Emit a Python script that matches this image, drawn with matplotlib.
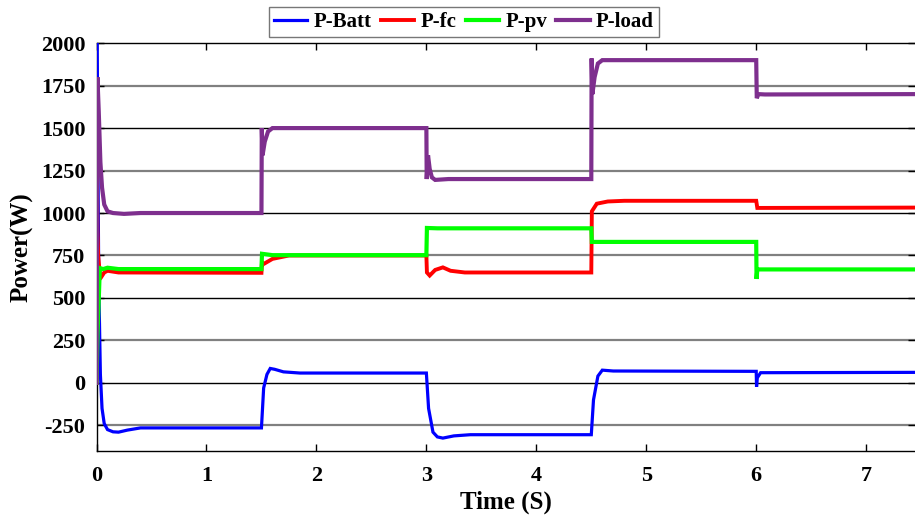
import matplotlib
matplotlib.use("Agg")
import matplotlib.pyplot as plt

# ---- data ----
t_batt = [0, 0.005, 0.02, 0.035, 0.05, 0.07, 0.1, 0.15, 0.2, 0.28, 0.4,
          1.5, 1.52, 1.55, 1.58, 1.62, 1.7, 1.85,
          3.0, 3.02, 3.06, 3.1, 3.15, 3.25, 3.4,
          4.5, 4.52, 4.56, 4.6, 4.7,
          6.0, 6.003, 6.01, 6.04, 7.45]
p_batt = [2600, 2100, 600, 50, -150, -240, -275, -288, -290, -278, -265,
          -265, -30, 50, 85, 80, 65, 58,
          58, -150, -290, -318, -325, -312, -305,
          -305, -100, 40, 75, 70,
          68, -23, 30, 60, 62]

t_fc = [0, 0.003, 0.008, 0.015, 0.03, 0.045, 0.07, 0.1, 0.2,
        1.5, 1.505, 1.52, 1.6, 1.75,
        3.0, 3.005, 3.03, 3.08, 3.15, 3.22, 3.35,
        4.5, 4.505, 4.55, 4.65, 4.8,
        6.0, 6.01, 7.45]
p_fc = [0, 1250, 900, 750, 640, 625, 650, 660, 650,
        648, 712, 700, 730, 750,
        750, 650, 632, 665, 680, 660, 650,
        650, 1010, 1055, 1068, 1072,
        1072, 1030, 1032]

t_pv = [0, 0.01, 0.03, 0.06, 0.1, 0.2,
        1.5, 1.505, 1.6,
        3.0, 3.005, 3.1,
        4.5, 4.505,
        6.0, 6.003, 6.01, 7.45]
p_pv = [0, 300, 676, 670, 678, 670,
        670, 760, 752,
        752, 912, 910,
        910, 830,
        830, 612, 668, 668]

t_load = [0, 0.008, 0.02, 0.035, 0.05, 0.07, 0.1, 0.15, 0.25, 0.4,
          1.5, 1.503, 1.51, 1.53, 1.56, 1.6, 1.7,
          3.0, 3.003, 3.015, 3.03, 3.05, 3.08, 3.2,
          4.5, 4.503, 4.51, 4.53, 4.56, 4.6, 4.7,
          6.0, 6.005, 6.02, 6.08, 7.45]
p_load = [0, 1800, 1600, 1300, 1150, 1050, 1010, 1000, 995, 1000,
          1000, 1500, 1340, 1420, 1480, 1500, 1500,
          1500, 1200, 1340, 1260, 1210, 1195, 1200,
          1200, 1910, 1700, 1800, 1880, 1900, 1900,
          1900, 1676, 1700, 1698, 1700]

labels = ["P-Batt", "P-fc", "P-pv", "P-load"]
colors = ["#0000FF", "#FF0000", "#00FF00", "#7E2F8E"]
y_ticks = [-250, 0, 250, 500, 750, 1000, 1250, 1500, 1750, 2000]
x_ticks = [0, 1, 2, 3, 4, 5, 6, 7]

plt.rcParams["font.family"] = ["Liberation Serif", "DejaVu Serif"]
plt.rcParams["font.weight"] = "bold"
plt.rcParams["axes.unicode_minus"] = False

fig = plt.figure(figsize=(9.15, 5.2), dpi=100)
ax = fig.add_axes([0.1055, 0.133, 0.894, 0.784])

# grid lines: gray for all ticks, black for multiples of 500
for yv in y_ticks:
    if yv % 500 == 0 and yv != 2000:
        ax.axhline(yv, color="black", lw=1.0, zorder=1)
    elif yv != 2000:
        ax.axhline(yv, color="#808080", lw=1.6, zorder=1)

series = [(t_batt, p_batt), (t_fc, p_fc), (t_pv, p_pv), (t_load, p_load)]
widths = [2.3, 2.8, 3.0, 3.0]
for (tt, pp), lab, c, w in zip(series, labels, colors, widths):
    ax.plot(tt, pp, color=c, lw=w, label=lab, zorder=3,
            solid_joinstyle="miter")

ax.set_xlim(0, 7.44)
ax.set_ylim(-400, 2000)
ax.set_xticks(x_ticks)
ax.set_yticks(y_ticks)
ax.tick_params(direction="in", length=5, width=1, top=True, right=True,
               labelsize=16, pad=8)
for lbl in ax.get_xticklabels() + ax.get_yticklabels():
    lbl.set_fontweight("bold")
ax.tick_params(axis="x", pad=11)
for s in ax.spines.values():
    s.set_linewidth(1.0)
ax.spines["right"].set_visible(False)

ax.set_xlabel("Time (S)", fontsize=18, fontweight="bold", labelpad=3)
ax.set_ylabel("Power(W)", fontsize=18, fontweight="bold", labelpad=5)

leg = fig.legend(loc="upper center", bbox_to_anchor=(0.507, 0.995), ncol=4,
                 frameon=True, fancybox=False,
                 handlelength=1.6, columnspacing=0.45, handletextpad=0.3,
                 borderpad=0.25, borderaxespad=0.2,
                 prop={"weight": "bold", "size": 15})
leg.get_frame().set_edgecolor("#555555")
leg.get_frame().set_linewidth(1.0)

fig.savefig("out.png", dpi=100)
